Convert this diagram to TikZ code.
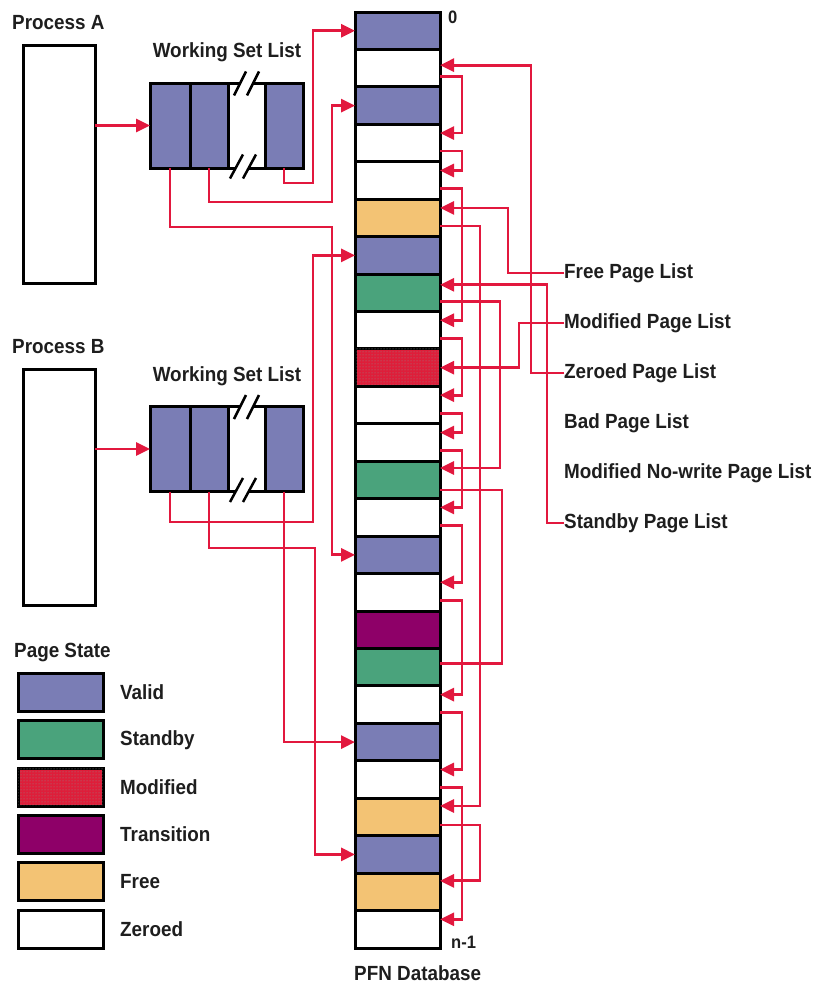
\documentclass[tikz,border=0pt]{standalone}
\usepackage{fontspec}
\setmainfont{Liberation Sans}[FakeStretch=0.92]
\usetikzlibrary{arrows.meta,calc,patterns}

\definecolor{validc}{RGB}{122,125,181}
\definecolor{standbyc}{RGB}{74,163,124}
\definecolor{modc}{RGB}{222,30,58}
\definecolor{transc}{RGB}{142,0,104}
\definecolor{freec}{RGB}{243,195,116}
\definecolor{linkc}{RGB}{226,24,62}
\definecolor{inkc}{RGB}{30,30,30}

\begin{document}
\begin{tikzpicture}[x=1pt,y=-1pt,
  txt/.style={font=\fontsize{20.5}{24}\selectfont\bfseries, inner sep=0pt, text=inkc},
  smalltxt/.style={font=\fontsize{18}{21}\selectfont\bfseries, inner sep=0pt, text=inkc},
  frame/.style={draw=black, line width=3pt},
  cell/.style={frame, minimum width=85pt, minimum height=37.44pt, inner sep=0pt, outer sep=0pt},
  legbox/.style={frame, minimum width=85pt, minimum height=38pt, inner sep=0pt, outer sep=0pt},
  wcell/.style={frame, fill=validc, minimum height=85pt, inner sep=0pt, outer sep=0pt},
  procbox/.style={frame, fill=white, minimum width=72pt, inner sep=0pt, outer sep=0pt},
  pgvalid/.style={fill=validc},
  pgstandby/.style={fill=standbyc},
  pgmodified/.style={fill=modc, postaction={pattern=dots, pattern color=black!45}},
  pgtransition/.style={fill=transc},
  pgfree/.style={fill=freec},
  pgzeroed/.style={fill=white},
  link/.style={draw=linkc, line width=2.8pt},
  arrowed/.style={-{Triangle[length=14pt,width=13pt]}}
]
\useasboundingbox (0,0) rectangle (825,985);

% ---------------- processes ----------------
\node[txt, anchor=west] (tpa) at (12,23) {Process A};
\node[procbox, minimum height=238pt] (pa) at (59,164) {};
\node[txt, anchor=west] (tpb) at (12,347) {Process B};
\node[procbox, minimum height=236pt] (pb) at (59,487) {};

% ---------------- working set lists ----------------
\foreach \w/\cy in {a/125.5,b/449} {
  \node[txt] (tw\w) at (227,{\cy-73}) {Working Set List};
  \node[wcell, minimum width=40pt] (w\w1) at (170,\cy) {};
  \node[wcell, minimum width=38pt] (w\w2) at (209,\cy) {};
  \node[wcell, minimum width=38pt] (w\w3) at (284,\cy) {};
  \draw[frame] (w\w2.north east) -- (w\w3.north west);
  \draw[frame] (w\w2.south east) -- (w\w3.south west);
  % break marks
  \fill[white] (234,{\cy-30}) -- (246,{\cy-54}) -- (259,{\cy-54}) -- (247,{\cy-30}) -- cycle;
  \draw[black, line width=2.5pt] (234,{\cy-30}) -- (246,{\cy-54});
  \draw[black, line width=2.5pt] (247,{\cy-30}) -- (259,{\cy-54});
  \fill[white] (230,{\cy+53}) -- (243,{\cy+29}) -- (256,{\cy+29}) -- (243,{\cy+53}) -- cycle;
  \draw[black, line width=2.5pt] (230,{\cy+53}) -- (243,{\cy+29});
  \draw[black, line width=2.5pt] (243,{\cy+53}) -- (256,{\cy+29});
}

% ---------------- PFN database ----------------
\foreach \s [count=\i from 0] in {valid,zeroed,valid,zeroed,zeroed,free,valid,standby,zeroed,modified,zeroed,zeroed,standby,zeroed,valid,zeroed,transition,standby,zeroed,valid,zeroed,free,valid,free,zeroed}
  \node[cell, pg\s] (r\i) at (397.5,{30.72+37.44*\i}) {};

\node[smalltxt, anchor=west] (tzero) at (448,17) {0};
\node[smalltxt, anchor=west] (tlast) at (451,942) {n-1};
\node[txt, anchor=west] (tpfn) at (354,973) {PFN Database};

% ---------------- page lists ----------------
\node[txt, anchor=west] (lfree) at (564,273) {Free Page List};
\node[txt, anchor=west] (lmod) at (564,323) {Modified Page List};
\node[txt, anchor=west] (lzero) at (564,373) {Zeroed Page List};
\node[txt, anchor=west] (lbad) at (564,423) {Bad Page List};
\node[txt, anchor=west] (lmnw) at (564,473) {Modified No-write Page List};
\node[txt, anchor=west] (lstby) at (564,523) {Standby Page List};

% ---------------- legend ----------------
\node[txt, anchor=west] (tstate) at (14,653) {Page State};
\foreach \s/\t [count=\k from 0] in {valid/Valid,standby/Standby,modified/Modified,transition/Transition,free/Free,zeroed/Zeroed} {
  \node[legbox, pg\s] (leg\k) at (60.5,{692.5+47.3*\k}) {};
  \node[txt, anchor=west] (legt\k) at (120,{692.5+47.3*\k}) {\t};
}

% ---------------- process -> working set list ----------------
\draw[link, arrowed] (pa.east |- wa1.west) -- (wa1.west);
\draw[link, arrowed] (pb.east |- wb1.west) -- (wb1.west);

% ---------------- working set entries -> valid pages ----------------
\draw[link, arrowed] (wa3.south) |- (313,183) |- (r0.west);
\draw[link, arrowed] (wa2.south) |- (332,202) |- (r2.west);
\draw[link, arrowed] (wa1.south) |- (332,227) |- (r14.west);
\draw[link, arrowed] (wb1.south) |- (313,522) |- (r6.west);
\draw[link, arrowed] (wb2.south) |- (315,548) |- (r22.west);
\draw[link, arrowed] (wb3.south) |- (r19.west);

% ---------------- list heads ----------------
\draw[link, arrowed] (lfree.west) -- ++(-56,0) |- ($(r5.east)+(0,-10)$);
\draw[link, arrowed] (lmod.west) -- ++(-45,0) |- (r9.east);
\draw[link, arrowed] (lzero.west) -- ++(-33,0) |- ($(r1.east)+(0,-3)$);
\draw[link, arrowed] (lstby.west) -- ++(-17,0) |- ($(r7.east)+(0,-8)$);

% ---------------- zeroed chain ----------------
\foreach \a/\b in {1/3,3/4,4/8,8/10,10/11,11/13,13/15,15/18,18/20,20/24}
  \draw[link, arrowed] ($(r\a.east)+(0,8)$) -- ++(22,0) |- ($(r\b.east)+(0,-10)$);

% ---------------- free chain ----------------
\foreach \a/\b in {5/21,21/23}
  \draw[link, arrowed] ($(r\a.east)+(0,8)$) -- ++(40,0) |- ($(r\b.east)+(0,-11)$);

% ---------------- standby chain ----------------
\draw[link, arrowed] ($(r7.east)+(0,9)$) -- ++(60,0) |- ($(r12.east)+(0,-12)$);
\draw[link] ($(r12.east)+(0,10)$) -- ++(62,0) |- ($(r17.east)+(0,-4)$);

\end{tikzpicture}
\end{document}
